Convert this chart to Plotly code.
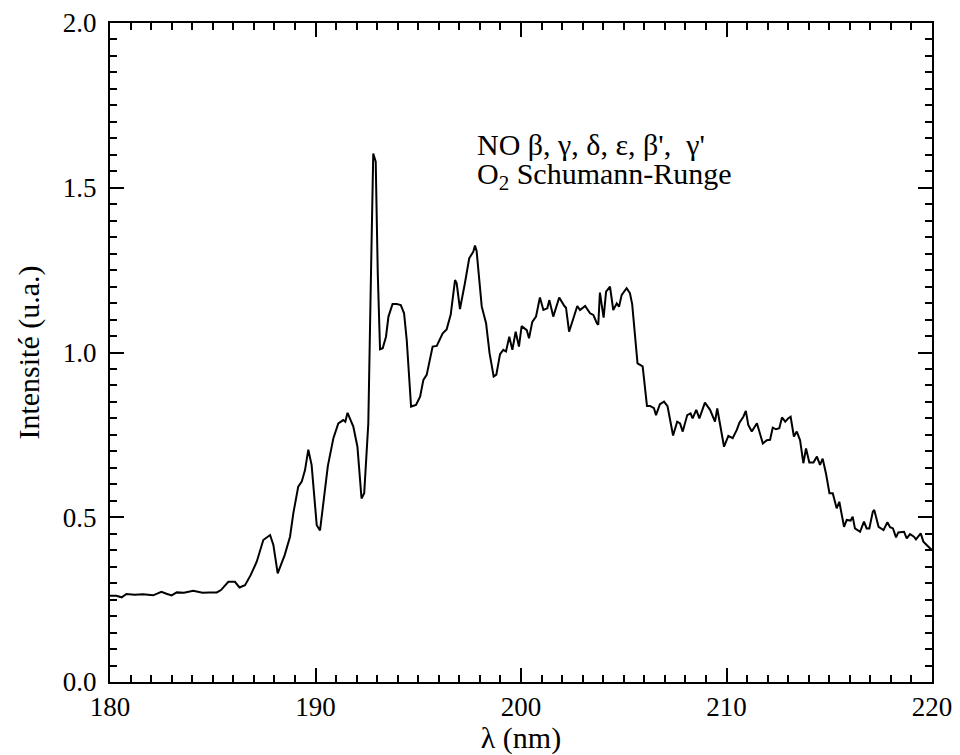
import plotly.graph_objects as go

wavelength = [180.0, 180.3, 180.57, 180.8, 181.2, 181.6, 182.1, 182.5, 182.75, 183.0, 183.25, 183.6, 184.05, 184.5, 184.85, 185.2, 185.4, 185.76, 186.08, 186.3, 186.57, 186.85, 187.14, 187.46, 187.79, 187.95, 188.16, 188.5, 188.76, 188.92, 189.16, 189.33, 189.49, 189.65, 189.81, 190.06, 190.22, 190.6, 190.87, 191.11, 191.35, 191.45, 191.56, 191.84, 192.04, 192.24, 192.37, 192.57, 192.70, 192.81, 192.93, 193.03, 193.14, 193.27, 193.43, 193.55, 193.75, 193.95, 194.15, 194.31, 194.44, 194.65, 194.89, 195.09, 195.25, 195.41, 195.7, 195.9, 196.19, 196.38, 196.58, 196.79, 196.87, 197.03, 197.27, 197.48, 197.68, 197.76, 197.84, 198.09, 198.3, 198.47, 198.67, 198.8, 198.98, 199.14, 199.27, 199.43, 199.58, 199.74, 199.9, 200.03, 200.28, 200.39, 200.55, 200.73, 200.92, 201.09, 201.28, 201.38, 201.57, 201.86, 202.11, 202.19, 202.34, 202.55, 202.74, 202.87, 203.12, 203.36, 203.52, 203.69, 203.76, 203.84, 204.02, 204.14, 204.33, 204.49, 204.66, 204.77, 204.9, 205.14, 205.3, 205.41, 205.67, 205.92, 206.13, 206.28, 206.47, 206.57, 206.76, 206.96, 207.13, 207.4, 207.6, 207.74, 207.87, 208.09, 208.25, 208.35, 208.53, 208.68, 208.95, 209.2, 209.44, 209.55, 209.68, 209.88, 210.09, 210.3, 210.5, 210.63, 210.82, 210.94, 211.06, 211.23, 211.48, 211.77, 211.96, 212.12, 212.25, 212.41, 212.57, 212.7, 212.86, 213.0, 213.12, 213.28, 213.42, 213.58, 213.74, 213.87, 214.03, 214.23, 214.4, 214.55, 214.68, 214.84, 215.01, 215.17, 215.36, 215.49, 215.61, 215.72, 215.85, 216.04, 216.14, 216.25, 216.5, 216.69, 216.82, 216.95, 217.12, 217.19, 217.4, 217.64, 217.83, 217.96, 218.1, 218.25, 218.36, 218.64, 218.77, 218.93, 219.12, 219.22, 219.45, 219.58, 219.74, 219.94, 220.0]

intensity = [0.262, 0.262, 0.257, 0.267, 0.265, 0.266, 0.263, 0.274, 0.268, 0.263, 0.272, 0.271, 0.277, 0.271, 0.272, 0.272, 0.279, 0.304, 0.304, 0.287, 0.294, 0.325, 0.365, 0.431, 0.446, 0.416, 0.330, 0.385, 0.441, 0.512, 0.593, 0.608, 0.643, 0.705, 0.659, 0.476, 0.460, 0.655, 0.740, 0.785, 0.795, 0.790, 0.817, 0.775, 0.714, 0.557, 0.573, 0.785, 1.240, 1.604, 1.579, 1.240, 1.010, 1.013, 1.048, 1.109, 1.147, 1.147, 1.144, 1.119, 1.038, 0.836, 0.841, 0.866, 0.917, 0.932, 1.018, 1.020, 1.058, 1.070, 1.115, 1.220, 1.210, 1.132, 1.210, 1.286, 1.306, 1.325, 1.308, 1.139, 1.089, 0.998, 0.927, 0.933, 0.995, 1.008, 1.003, 1.048, 1.008, 1.063, 1.018, 1.080, 1.068, 1.043, 1.093, 1.109, 1.167, 1.129, 1.134, 1.159, 1.109, 1.167, 1.141, 1.136, 1.063, 1.104, 1.141, 1.129, 1.141, 1.119, 1.114, 1.089, 1.084, 1.182, 1.106, 1.185, 1.200, 1.129, 1.149, 1.139, 1.175, 1.195, 1.180, 1.147, 0.967, 0.958, 0.838, 0.838, 0.831, 0.810, 0.843, 0.851, 0.837, 0.748, 0.790, 0.785, 0.760, 0.810, 0.815, 0.800, 0.826, 0.800, 0.848, 0.826, 0.790, 0.830, 0.785, 0.714, 0.747, 0.740, 0.765, 0.787, 0.805, 0.823, 0.780, 0.760, 0.785, 0.724, 0.734, 0.735, 0.772, 0.767, 0.770, 0.803, 0.790, 0.800, 0.805, 0.745, 0.760, 0.734, 0.664, 0.709, 0.666, 0.666, 0.684, 0.659, 0.678, 0.633, 0.573, 0.573, 0.527, 0.547, 0.507, 0.471, 0.492, 0.490, 0.502, 0.466, 0.456, 0.487, 0.466, 0.466, 0.517, 0.522, 0.471, 0.461, 0.485, 0.470, 0.466, 0.439, 0.454, 0.456, 0.436, 0.449, 0.441, 0.433, 0.451, 0.426, 0.416, 0.401, 0.400]

x_ticks = [180, 190, 200, 210, 220]
y_ticks = [0.0, 0.5, 1.0, 1.5, 2.0]
x_title = "λ (nm)"
y_title = "Intensité (u.a.)"
label_line1 = "NO β, γ, δ, ε, β',\u00a0 γ'"
label_line2 = "O<sub>2</sub> Schumann-Runge"

FONT = "Liberation Serif"

fig = go.Figure()
fig.add_trace(go.Scatter(x=wavelength, y=intensity, mode="lines",
                         line=dict(color="black", width=2), showlegend=False))

axis_common = dict(
    showgrid=False, zeroline=False, showline=True, linecolor="black", linewidth=2,
    mirror="allticks", ticks="inside", tickcolor="black", tickwidth=1.5, ticklen=14,
    tickfont=dict(family=FONT, size=27, color="black"), automargin=False,
)

fig.update_xaxes(range=[180, 220], tickvals=x_ticks, ticktext=[str(v) for v in x_ticks],
                 minor=dict(ticks="inside", ticklen=7, tickwidth=1.5, tickcolor="black", dtick=1, showgrid=False),
                 title=dict(text=x_title, font=dict(family=FONT, size=30, color="black"), standoff=8),
                 **axis_common)
fig.update_yaxes(range=[0, 2], tickvals=y_ticks, ticktext=[f"{v:.1f}" for v in y_ticks],
                 minor=dict(ticks="inside", ticklen=7, tickwidth=1.5, tickcolor="black", dtick=0.05, showgrid=False),
                 title=dict(text=y_title, font=dict(family=FONT, size=30, color="black"), standoff=14),
                 ticklabelstandoff=6,
                 **axis_common)

fig.add_annotation(x=197.76, y=1.631, xref="x", yref="y", text=label_line1, showarrow=False,
                   xanchor="left", yanchor="middle", font=dict(family=FONT, size=30, color="black"))
fig.add_annotation(x=197.76, y=1.535, xref="x", yref="y", text=label_line2, showarrow=False,
                   xanchor="left", yanchor="middle", font=dict(family=FONT, size=30, color="black"))

fig.update_layout(width=952, height=747, plot_bgcolor="white", paper_bgcolor="white",
                  margin=dict(l=102, r=28, t=15, b=73))

fig.write_html("out.html")
